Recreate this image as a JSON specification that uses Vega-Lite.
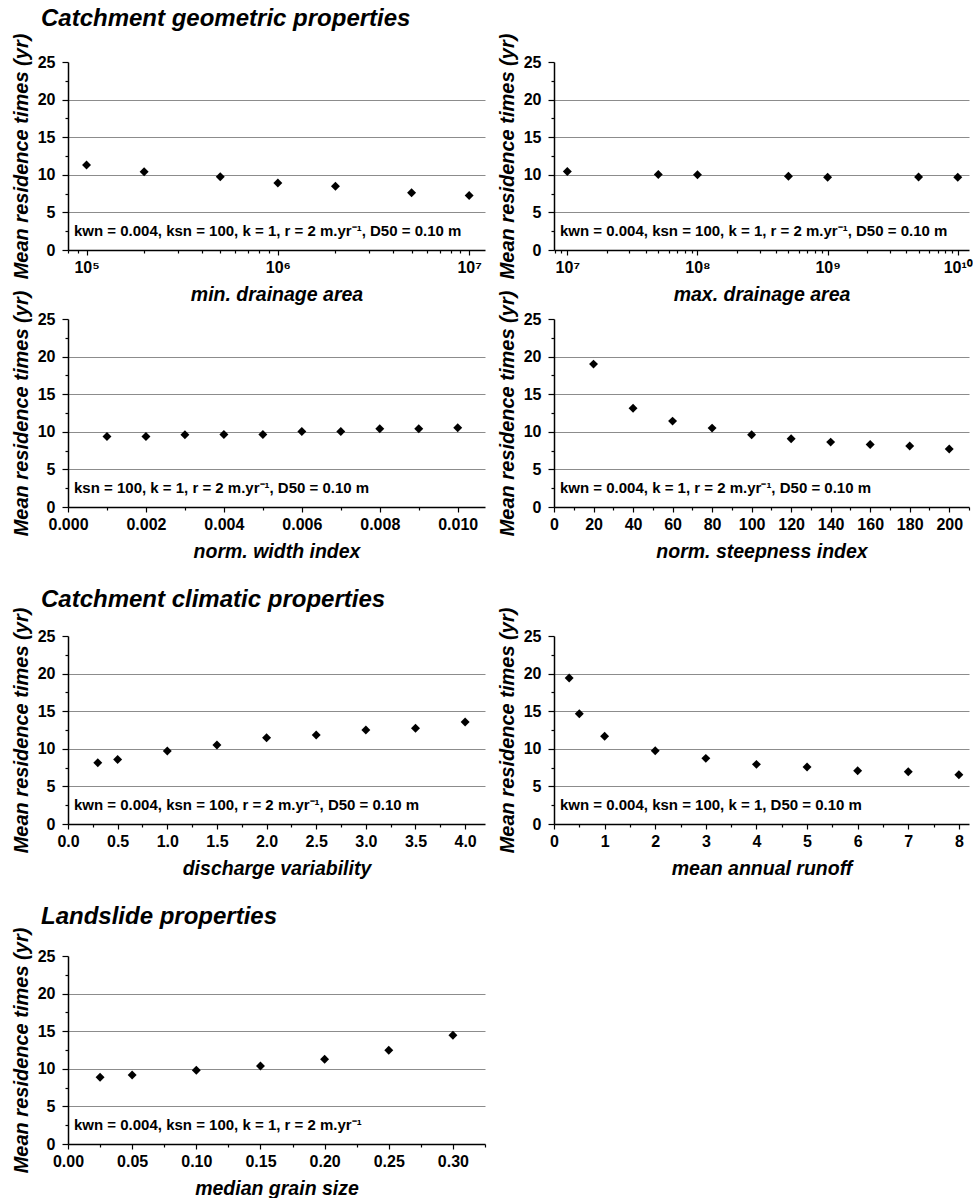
{
  "$schema": "https://vega.github.io/schema/vega-lite/v6.json",
  "background": "white",
  "padding": {"left": 11, "top": 7, "right": 5, "bottom": 5},
  "config": {
    "font": "Liberation Sans",
    "view": {"stroke": null},
    "axis": {
      "domainColor": "black", "domainWidth": 1.5,
      "tickColor": "black", "tickWidth": 1.2,
      "labelColor": "black", "labelFont": "Liberation Sans", "labelFontSize": 16, "labelFontWeight": "bold",
      "titleFont": "Liberation Sans", "titleFontWeight": "bold", "titleFontStyle": "italic", "titleColor": "black",
      "labelOverlap": false, "labelFlush": false, "grid": false
    },
    "axisX": {"labelPadding": 4, "titlePadding": 10.5, "titleFontSize": 19.5},
    "axisY": {"labelPadding": 7, "titlePadding": 6, "titleFontSize": 20},
    "title": {"font": "Liberation Sans", "fontSize": 24, "fontWeight": "bold", "fontStyle": "italic", "color": "black", "anchor": "start", "frame": "group"}
  },
  "datasets": {
    "p1": [{"param": 100000, "residence_time": 11.3}, {"param": 200000, "residence_time": 10.4}, {"param": 500000, "residence_time": 9.73}, {"param": 1000000, "residence_time": 8.92}, {"param": 2000000, "residence_time": 8.48}, {"param": 5000000, "residence_time": 7.62}, {"param": 10000000, "residence_time": 7.26}],
    "p2": [{"param": 10000000, "residence_time": 10.45}, {"param": 50000000, "residence_time": 10.05}, {"param": 100000000, "residence_time": 10.0}, {"param": 500000000, "residence_time": 9.82}, {"param": 1000000000, "residence_time": 9.68}, {"param": 5000000000, "residence_time": 9.72}, {"param": 10000000000, "residence_time": 9.68}],
    "p3": [{"param": 0.001, "residence_time": 9.38}, {"param": 0.002, "residence_time": 9.38}, {"param": 0.003, "residence_time": 9.6}, {"param": 0.004, "residence_time": 9.65}, {"param": 0.005, "residence_time": 9.65}, {"param": 0.006, "residence_time": 10.04}, {"param": 0.007, "residence_time": 10.04}, {"param": 0.008, "residence_time": 10.4}, {"param": 0.009, "residence_time": 10.4}, {"param": 0.010, "residence_time": 10.53}],
    "p4": [{"param": 20, "residence_time": 19.0}, {"param": 40, "residence_time": 13.14}, {"param": 60, "residence_time": 11.42}, {"param": 80, "residence_time": 10.49}, {"param": 100, "residence_time": 9.6}, {"param": 120, "residence_time": 9.07}, {"param": 140, "residence_time": 8.63}, {"param": 160, "residence_time": 8.32}, {"param": 180, "residence_time": 8.1}, {"param": 200, "residence_time": 7.7}],
    "p5": [{"param": 0.3, "residence_time": 8.14}, {"param": 0.5, "residence_time": 8.59}, {"param": 1.0, "residence_time": 9.7}, {"param": 1.5, "residence_time": 10.5}, {"param": 2.0, "residence_time": 11.48}, {"param": 2.5, "residence_time": 11.83}, {"param": 3.0, "residence_time": 12.5}, {"param": 3.5, "residence_time": 12.72}, {"param": 4.0, "residence_time": 13.57}],
    "p6": [{"param": 0.3, "residence_time": 19.41}, {"param": 0.5, "residence_time": 14.67}, {"param": 1, "residence_time": 11.66}, {"param": 2, "residence_time": 9.75}, {"param": 3, "residence_time": 8.73}, {"param": 4, "residence_time": 7.93}, {"param": 5, "residence_time": 7.58}, {"param": 6, "residence_time": 7.09}, {"param": 7, "residence_time": 6.96}, {"param": 8, "residence_time": 6.56}],
    "p7": [{"param": 0.025, "residence_time": 8.87}, {"param": 0.05, "residence_time": 9.18}, {"param": 0.1, "residence_time": 9.8}, {"param": 0.15, "residence_time": 10.37}, {"param": 0.2, "residence_time": 11.26}, {"param": 0.25, "residence_time": 12.46}, {"param": 0.3, "residence_time": 14.45}]
  },
  "bounds": "flush",
  "columns": 2,
  "spacing": {"row": 69, "column": 69},
  "concat": [
    {
      "title": {"text": "Catchment geometric properties", "dx": -27, "offset": 2},
      "width": 417, "height": 188,
      "layer": [
        {
          "data": {"name": "p1"},
          "mark": {"type": "point", "shape": "diamond", "filled": true, "color": "black", "size": 80, "opacity": 1},
          "encoding": {
            "x": {"field": "param", "type": "quantitative", "title": "min. drainage area",
              "scale": {"type": "log", "domain": [80000, 12100000], "nice": false},
              "axis": {"values": [80000, 90000, 100000, 200000, 300000, 400000, 500000, 600000, 700000, 800000, 900000, 1000000, 2000000, 3000000, 4000000, 5000000, 6000000, 7000000, 8000000, 9000000, 10000000],
                "tickCount": 100, "labelOverlap": false,
                "labelExpr": "datum.value == 100000 ? '10⁵' : datum.value == 1000000 ? '10⁶' : datum.value == 10000000 ? '10⁷' : ''",
                "tickSize": {"condition": {"test": "datum.value == 100000 || datum.value == 1000000 || datum.value == 10000000", "value": 5}, "value": 3}}},
            "y": {"field": "residence_time", "type": "quantitative", "title": "Mean residence times (yr)",
              "scale": {"domain": [0, 25], "nice": false},
              "axis": {"values": [0, 2.5, 5, 7.5, 10, 12.5, 15, 17.5, 20, 22.5, 25], "tickCount": 100, "grid": true, "labelOverlap": false,
                "labelExpr": "datum.value % 5 == 0 ? format(datum.value, 'd') : ''",
                "tickSize": {"condition": {"test": "datum.value % 5 == 0", "value": 6}, "value": 3},
                "gridColor": {"condition": {"test": "datum.value % 5 == 0 && datum.value > 0 && datum.value < 25", "value": "#8c8c8c"}, "value": "transparent"}}}
          }
        },
        {
          "data": {"values": [{"note": "kwn = 0.004, ksn = 100, k = 1, r = 2 m.yr⁻¹, D50 = 0.10 m"}]},
          "mark": {"type": "text", "align": "left", "baseline": "middle", "dx": 6, "font": "Liberation Sans", "fontSize": 15, "fontWeight": "bold", "color": "black"},
          "encoding": {"x": {"datum": 80000, "type": "quantitative"}, "y": {"datum": 2.5, "type": "quantitative"}, "text": {"field": "note"}}
        }
      ]
    },
    {
      "width": 415, "height": 188,
      "layer": [
        {
          "data": {"name": "p2"},
          "mark": {"type": "point", "shape": "diamond", "filled": true, "color": "black", "size": 80, "opacity": 1},
          "encoding": {
            "x": {"field": "param", "type": "quantitative", "title": "max. drainage area",
              "scale": {"type": "log", "domain": [7900000, 12200000000], "nice": false},
              "axis": {"values": [8000000, 9000000, 10000000, 20000000, 30000000, 40000000, 50000000, 60000000, 70000000, 80000000, 90000000, 100000000, 200000000, 300000000, 400000000, 500000000, 600000000, 700000000, 800000000, 900000000, 1000000000, 2000000000, 3000000000, 4000000000, 5000000000, 6000000000, 7000000000, 8000000000, 9000000000, 10000000000],
                "tickCount": 100, "labelOverlap": false,
                "labelExpr": "datum.value == 10000000 ? '10⁷' : datum.value == 100000000 ? '10⁸' : datum.value == 1000000000 ? '10⁹' : datum.value == 10000000000 ? '10¹⁰' : ''",
                "tickSize": {"condition": {"test": "datum.value == 10000000 || datum.value == 100000000 || datum.value == 1000000000 || datum.value == 10000000000", "value": 5}, "value": 3}}},
            "y": {"field": "residence_time", "type": "quantitative", "title": "Mean residence times (yr)",
              "scale": {"domain": [0, 25], "nice": false},
              "axis": {"values": [0, 2.5, 5, 7.5, 10, 12.5, 15, 17.5, 20, 22.5, 25], "tickCount": 100, "grid": true, "labelOverlap": false,
                "labelExpr": "datum.value % 5 == 0 ? format(datum.value, 'd') : ''",
                "tickSize": {"condition": {"test": "datum.value % 5 == 0", "value": 6}, "value": 3},
                "gridColor": {"condition": {"test": "datum.value % 5 == 0 && datum.value > 0 && datum.value < 25", "value": "#8c8c8c"}, "value": "transparent"}}}
          }
        },
        {
          "data": {"values": [{"note": "kwn = 0.004, ksn = 100, k = 1, r = 2 m.yr⁻¹, D50 = 0.10 m"}]},
          "mark": {"type": "text", "align": "left", "baseline": "middle", "dx": 6, "font": "Liberation Sans", "fontSize": 15, "fontWeight": "bold", "color": "black"},
          "encoding": {"x": {"datum": 7900000, "type": "quantitative"}, "y": {"datum": 2.5, "type": "quantitative"}, "text": {"field": "note"}}
        }
      ]
    },
    {
      "width": 417, "height": 188,
      "layer": [
        {
          "data": {"name": "p3"},
          "mark": {"type": "point", "shape": "diamond", "filled": true, "color": "black", "size": 80, "opacity": 1},
          "encoding": {
            "x": {"field": "param", "type": "quantitative", "title": "norm. width index",
              "scale": {"domain": [0, 0.0107], "nice": false, "zero": false},
              "axis": {"values": [0, 0.001, 0.002, 0.003, 0.004, 0.005, 0.006, 0.007, 0.008, 0.009, 0.010], "tickCount": 100, "labelOverlap": false,
                "labelExpr": "round(datum.value * 1000) % 2 == 0 ? format(datum.value, '.3f') : ''",
                "tickSize": {"condition": {"test": "round(datum.value * 1000) % 2 == 0", "value": 5}, "value": 3}}},
            "y": {"field": "residence_time", "type": "quantitative", "title": "Mean residence times (yr)",
              "scale": {"domain": [0, 25], "nice": false},
              "axis": {"values": [0, 2.5, 5, 7.5, 10, 12.5, 15, 17.5, 20, 22.5, 25], "tickCount": 100, "grid": true, "labelOverlap": false,
                "labelExpr": "datum.value % 5 == 0 ? format(datum.value, 'd') : ''",
                "tickSize": {"condition": {"test": "datum.value % 5 == 0", "value": 6}, "value": 3},
                "gridColor": {"condition": {"test": "datum.value % 5 == 0 && datum.value > 0 && datum.value < 25", "value": "#8c8c8c"}, "value": "transparent"}}}
          }
        },
        {
          "data": {"values": [{"note": "ksn = 100, k = 1, r = 2 m.yr⁻¹, D50 = 0.10 m"}]},
          "mark": {"type": "text", "align": "left", "baseline": "middle", "dx": 6, "font": "Liberation Sans", "fontSize": 15, "fontWeight": "bold", "color": "black"},
          "encoding": {"x": {"datum": 0, "type": "quantitative"}, "y": {"datum": 2.5, "type": "quantitative"}, "text": {"field": "note"}}
        }
      ]
    },
    {
      "width": 415, "height": 188,
      "layer": [
        {
          "data": {"name": "p4"},
          "mark": {"type": "point", "shape": "diamond", "filled": true, "color": "black", "size": 80, "opacity": 1},
          "encoding": {
            "x": {"field": "param", "type": "quantitative", "title": "norm. steepness index",
              "scale": {"domain": [0, 210], "nice": false},
              "axis": {"values": [0, 10, 20, 30, 40, 50, 60, 70, 80, 90, 100, 110, 120, 130, 140, 150, 160, 170, 180, 190, 200, 210], "tickCount": 100, "labelOverlap": false,
                "labelExpr": "datum.value % 20 == 0 ? format(datum.value, 'd') : ''",
                "tickSize": {"condition": {"test": "datum.value % 20 == 0", "value": 5}, "value": 3}}},
            "y": {"field": "residence_time", "type": "quantitative", "title": "Mean residence times (yr)",
              "scale": {"domain": [0, 25], "nice": false},
              "axis": {"values": [0, 2.5, 5, 7.5, 10, 12.5, 15, 17.5, 20, 22.5, 25], "tickCount": 100, "grid": true, "labelOverlap": false,
                "labelExpr": "datum.value % 5 == 0 ? format(datum.value, 'd') : ''",
                "tickSize": {"condition": {"test": "datum.value % 5 == 0", "value": 6}, "value": 3},
                "gridColor": {"condition": {"test": "datum.value % 5 == 0 && datum.value > 0 && datum.value < 25", "value": "#8c8c8c"}, "value": "transparent"}}}
          }
        },
        {
          "data": {"values": [{"note": "kwn = 0.004, k = 1, r = 2 m.yr⁻¹, D50 = 0.10 m"}]},
          "mark": {"type": "text", "align": "left", "baseline": "middle", "dx": 6, "font": "Liberation Sans", "fontSize": 15, "fontWeight": "bold", "color": "black"},
          "encoding": {"x": {"datum": 0, "type": "quantitative"}, "y": {"datum": 2.5, "type": "quantitative"}, "text": {"field": "note"}}
        }
      ]
    },
    {
      "title": {"text": "Catchment climatic properties", "dx": -27, "offset": -36},
      "width": 417, "height": 248,
      "layer": [
        {
          "data": {"name": "p5"},
          "mark": {"type": "point", "shape": "diamond", "filled": true, "color": "black", "size": 80, "opacity": 1},
          "encoding": {
            "x": {"field": "param", "type": "quantitative", "title": "discharge variability",
              "scale": {"domain": [0, 4.2], "nice": false},
              "axis": {"values": [0, 0.25, 0.5, 0.75, 1, 1.25, 1.5, 1.75, 2, 2.25, 2.5, 2.75, 3, 3.25, 3.5, 3.75, 4], "tickCount": 100, "labelOverlap": false,
                "labelExpr": "round(datum.value * 4) % 2 == 0 ? format(datum.value, '.1f') : ''",
                "tickSize": {"condition": {"test": "round(datum.value * 4) % 2 == 0", "value": 5}, "value": 3}}},
            "y": {"field": "residence_time", "type": "quantitative", "title": "Mean residence times (yr)",
              "scale": {"domain": [0, 25], "nice": false, "range": [248, 60]},
              "axis": {"values": [0, 2.5, 5, 7.5, 10, 12.5, 15, 17.5, 20, 22.5, 25], "tickCount": 100, "grid": true, "labelOverlap": false,
                "labelExpr": "datum.value % 5 == 0 ? format(datum.value, 'd') : ''",
                "tickSize": {"condition": {"test": "datum.value % 5 == 0", "value": 6}, "value": 3},
                "gridColor": {"condition": {"test": "datum.value % 5 == 0 && datum.value > 0 && datum.value < 25", "value": "#8c8c8c"}, "value": "transparent"}}}
          }
        },
        {
          "data": {"values": [{"note": "kwn = 0.004, ksn = 100, r = 2 m.yr⁻¹, D50 = 0.10 m"}]},
          "mark": {"type": "text", "align": "left", "baseline": "middle", "dx": 6, "font": "Liberation Sans", "fontSize": 15, "fontWeight": "bold", "color": "black"},
          "encoding": {"x": {"datum": 0, "type": "quantitative"}, "y": {"datum": 2.5, "type": "quantitative"}, "text": {"field": "note"}}
        }
      ]
    },
    {
      "width": 415, "height": 248,
      "layer": [
        {
          "data": {"name": "p6"},
          "mark": {"type": "point", "shape": "diamond", "filled": true, "color": "black", "size": 80, "opacity": 1},
          "encoding": {
            "x": {"field": "param", "type": "quantitative", "title": "mean annual runoff",
              "scale": {"domain": [0, 8.2], "nice": false},
              "axis": {"values": [0, 0.5, 1, 1.5, 2, 2.5, 3, 3.5, 4, 4.5, 5, 5.5, 6, 6.5, 7, 7.5, 8], "tickCount": 100, "labelOverlap": false,
                "labelExpr": "datum.value % 1 == 0 ? format(datum.value, 'd') : ''",
                "tickSize": {"condition": {"test": "datum.value % 1 == 0", "value": 5}, "value": 3}}},
            "y": {"field": "residence_time", "type": "quantitative", "title": "Mean residence times (yr)",
              "scale": {"domain": [0, 25], "nice": false, "range": [248, 60]},
              "axis": {"values": [0, 2.5, 5, 7.5, 10, 12.5, 15, 17.5, 20, 22.5, 25], "tickCount": 100, "grid": true, "labelOverlap": false,
                "labelExpr": "datum.value % 5 == 0 ? format(datum.value, 'd') : ''",
                "tickSize": {"condition": {"test": "datum.value % 5 == 0", "value": 6}, "value": 3},
                "gridColor": {"condition": {"test": "datum.value % 5 == 0 && datum.value > 0 && datum.value < 25", "value": "#8c8c8c"}, "value": "transparent"}}}
          }
        },
        {
          "data": {"values": [{"note": "kwn = 0.004, ksn = 100, k = 1, D50 = 0.10 m"}]},
          "mark": {"type": "text", "align": "left", "baseline": "middle", "dx": 6, "font": "Liberation Sans", "fontSize": 15, "fontWeight": "bold", "color": "black"},
          "encoding": {"x": {"datum": 0, "type": "quantitative"}, "y": {"datum": 2.5, "type": "quantitative"}, "text": {"field": "note"}}
        }
      ]
    },
    {
      "title": {"text": "Landslide properties", "dx": -27, "offset": -36},
      "width": 417, "height": 251,
      "layer": [
        {
          "data": {"name": "p7"},
          "mark": {"type": "point", "shape": "diamond", "filled": true, "color": "black", "size": 80, "opacity": 1},
          "encoding": {
            "x": {"field": "param", "type": "quantitative", "title": "median grain size",
              "scale": {"domain": [0, 0.325], "nice": false},
              "axis": {"values": [0, 0.025, 0.05, 0.075, 0.1, 0.125, 0.15, 0.175, 0.2, 0.225, 0.25, 0.275, 0.3, 0.325], "tickCount": 100, "labelOverlap": false,
                "labelExpr": "round(datum.value * 40) % 2 == 0 ? format(datum.value, '.2f') : ''",
                "tickSize": {"condition": {"test": "round(datum.value * 40) % 2 == 0", "value": 5}, "value": 3}}},
            "y": {"field": "residence_time", "type": "quantitative", "title": "Mean residence times (yr)",
              "scale": {"domain": [0, 25], "nice": false, "range": [251, 63]},
              "axis": {"values": [0, 2.5, 5, 7.5, 10, 12.5, 15, 17.5, 20, 22.5, 25], "tickCount": 100, "grid": true, "labelOverlap": false,
                "labelExpr": "datum.value % 5 == 0 ? format(datum.value, 'd') : ''",
                "tickSize": {"condition": {"test": "datum.value % 5 == 0", "value": 6}, "value": 3},
                "gridColor": {"condition": {"test": "datum.value % 5 == 0 && datum.value > 0 && datum.value < 25", "value": "#8c8c8c"}, "value": "transparent"}}}
          }
        },
        {
          "data": {"values": [{"note": "kwn = 0.004, ksn = 100, k = 1, r = 2 m.yr⁻¹"}]},
          "mark": {"type": "text", "align": "left", "baseline": "middle", "dx": 6, "font": "Liberation Sans", "fontSize": 15, "fontWeight": "bold", "color": "black"},
          "encoding": {"x": {"datum": 0, "type": "quantitative"}, "y": {"datum": 2.5, "type": "quantitative"}, "text": {"field": "note"}}
        }
      ]
    }
  ]
}
